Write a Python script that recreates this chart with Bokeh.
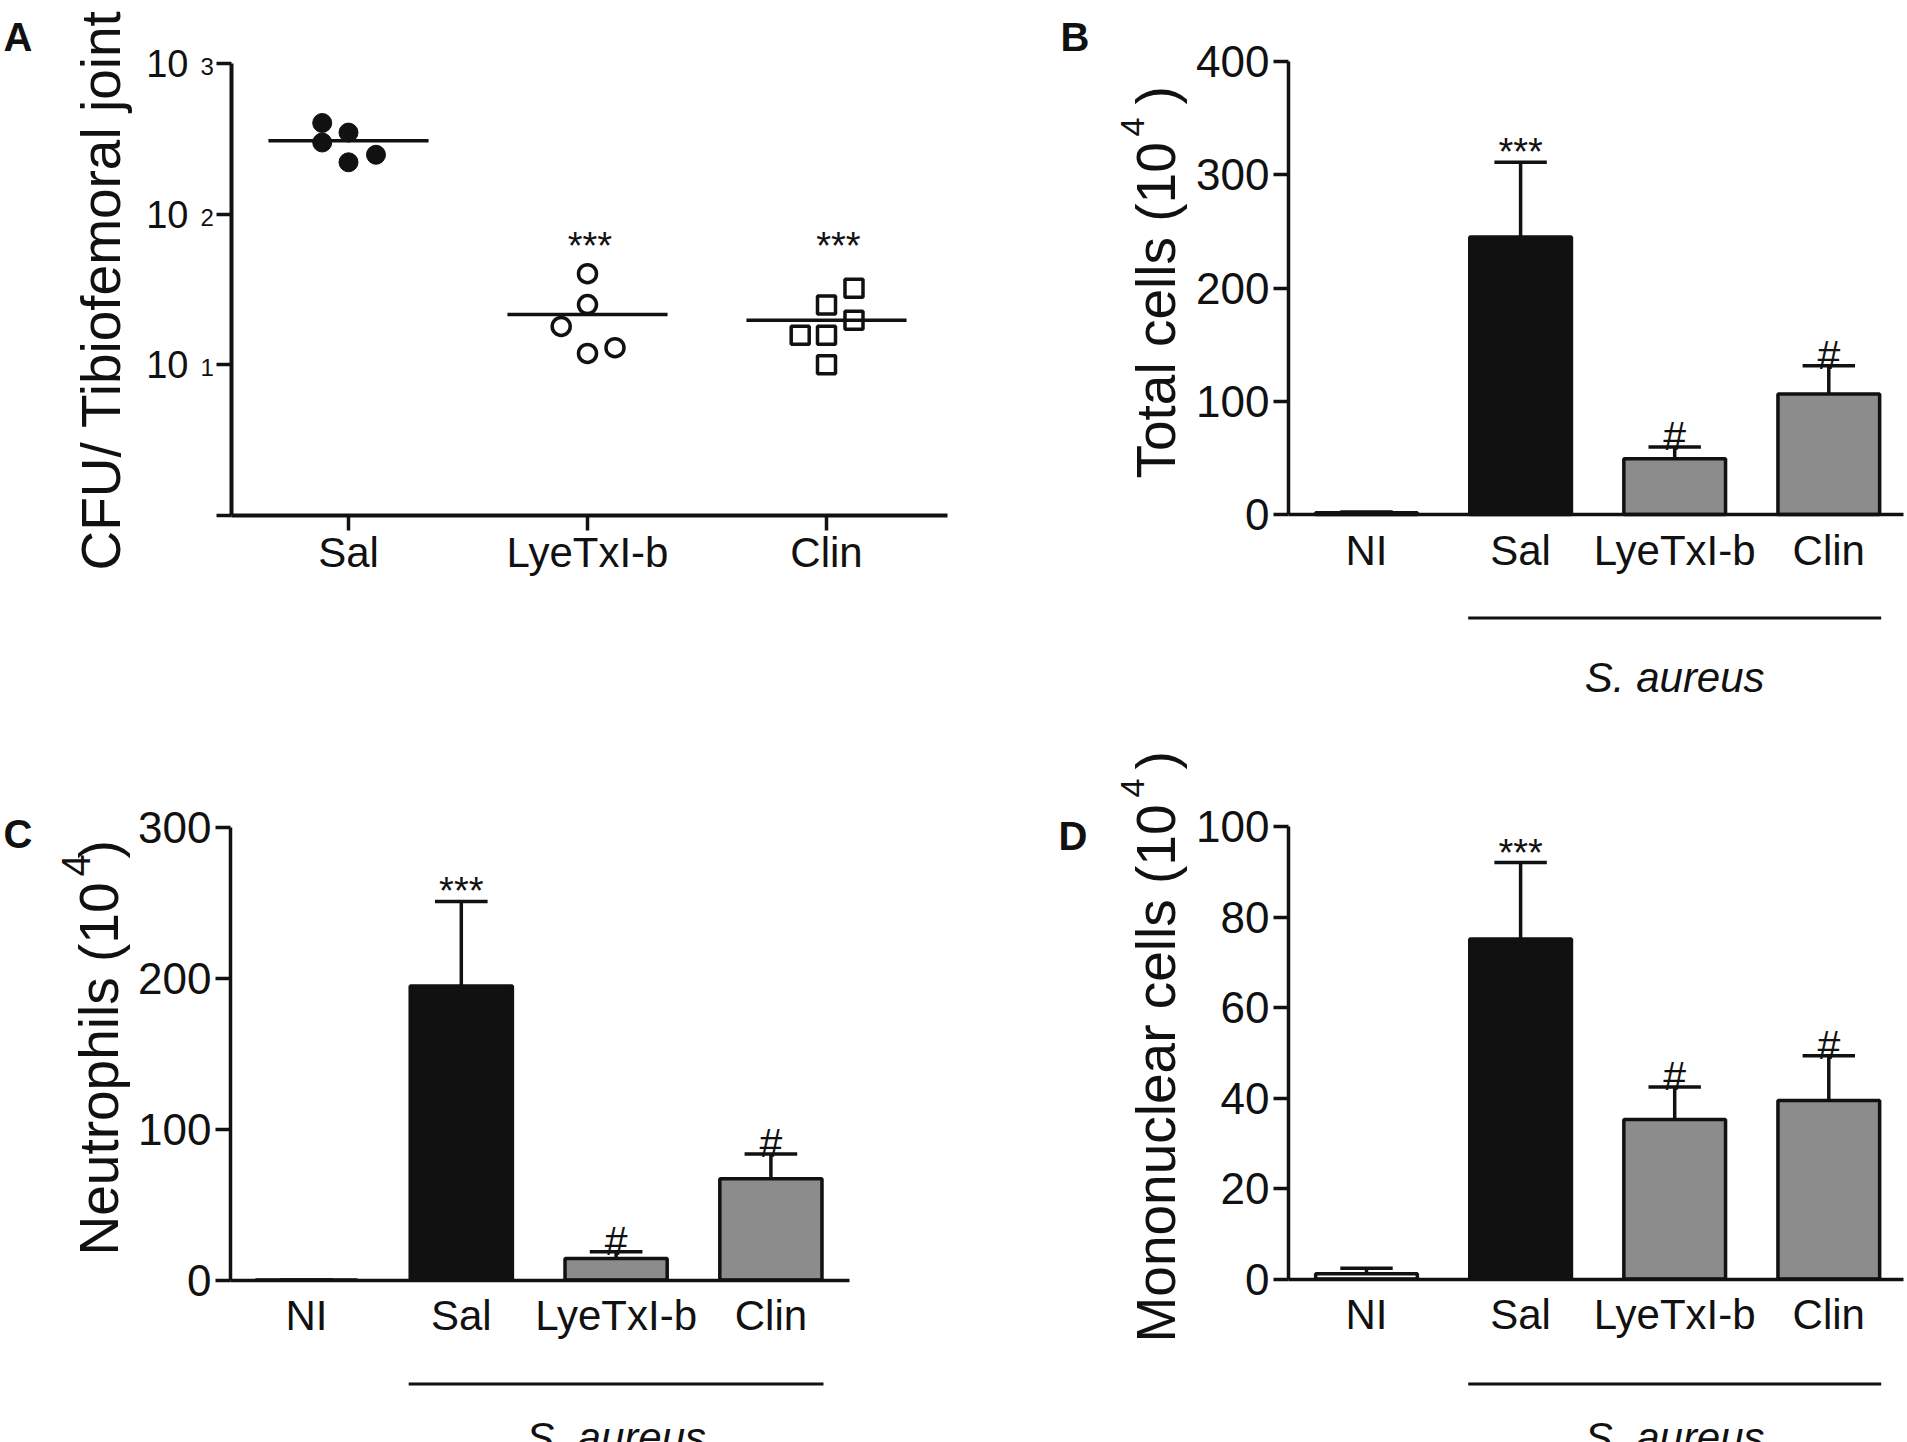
from bokeh.core.properties import value
from bokeh.embed import file_html
from bokeh.layouts import column, row
from bokeh.models import FixedTicker, Range1d
from bokeh.plotting import figure
from bokeh.resources import INLINE
import math

FONT = "Liberation Sans"
INK = "#111111"
GREY = "#8c8c8c"
UP = math.pi / 2

# panel A
cfu_ticks = [1, 10, 100, 1000]
cfu_tick_labels = ["", "10", "10", "10"]
cfu_exponents = ["1", "2", "3"]
cfu_groups = ["Sal", "LyeTxI-b", "Clin"]
sal_cfu = [403, 348, 299, 248, 221]
sal_jitter = [-0.11, 0.0, -0.11, 0.115, 0.0]
sal_mean = 307
lye_cfu = [40.3, 25.1, 18, 13, 11.9]
lye_jitter = [0.0, 0.0, -0.11, 0.115, 0.0]
lye_mean = 21.6
clin_cfu = [32.2, 25, 19.8, 15.7, 15.7, 10]
clin_jitter = [0.115, 0.0, 0.115, -0.11, 0.0, 0.0]
clin_mean = 19.8

# bar panels
groups = ["NI", "Sal", "LyeTxI-b", "Clin"]
total_cells = [1.5, 245, 49.3, 106.4]
total_upper = [2.2, 311, 59.5, 131.3]
neutrophils = [0, 195, 14.3, 67.2]
neutrophils_upper = [0, 251, 18.8, 83.5]
mononuclear = [1.2, 75.2, 35.3, 39.5]
mononuclear_upper = [2.4, 92.1, 42.5, 49.4]
bar_colors = ["white", INK, GREY, GREY]
total_ticks = [0, 100, 200, 300, 400]
neutrophil_ticks = [0, 100, 200, 300]
mononuclear_ticks = [0, 20, 40, 60, 80, 100]


def base_figure(box, x_range, y_range, **kw):
    # the frame fills the whole figure, the axes are pinned inside it, so that
    # the titles and the S. aureus line are ordinary glyphs
    left, right, top, bottom = box
    p = figure(width=right - left, height=bottom - top, output_backend="svg", toolbar_location=None,
               x_range=Range1d(*x_range), y_range=Range1d(*y_range),
               min_border_left=0, min_border_right=0, min_border_top=0, min_border_bottom=0, **kw)
    p.outline_line_color = None
    p.grid.visible = False
    for ax in (p.xaxis[0], p.yaxis[0]):
        ax.axis_line_color = INK
        ax.major_tick_line_color = INK
        ax.major_label_text_color = INK
        ax.major_label_text_font = FONT
        ax.minor_tick_line_color = None
        ax.major_tick_in = 0
        ax.major_tick_out = 15
        ax.axis_line_width = 3.5
        ax.major_tick_line_width = 3.5
    return p


def add_text(p, x, y, text, size, angle=0.0, style="normal", align="left", y_offset=0):
    p.text(x=[x], y=[y], text=[text], text_font=value(FONT), text_font_size=f"{size}px",
           text_font_style=style, text_color=INK, angle=angle, text_align=align,
           text_baseline="alphabetic", y_offset=y_offset)


def bar_panel(box, first_x, spacing, axis_x, axis_end, y0_px, ytop_px, y_max, ticks, values, upper,
              label, label_x, label_bottom, exp_x, exp_y, exp_size, paren_y, letter, letter_xy, under,
              standoff):
    def to_x(px):
        return 1 + (px - first_x) / spacing

    def to_y(py):
        return y_max * (y0_px - py) / (y0_px - ytop_px)

    left, right, top, bottom = box
    p = base_figure(box, (to_x(left), to_x(right)), (to_y(bottom), to_y(top)))
    p.xaxis.fixed_location = 0
    p.yaxis.fixed_location = to_x(axis_x)
    p.xaxis.bounds = (to_x(axis_x), to_x(axis_end))
    p.yaxis.bounds = (0, y_max)

    xs = list(range(1, len(groups) + 1))
    p.vbar(x=xs, top=values, bottom=0, width=0.66, fill_color=bar_colors, line_color=INK, line_width=3.5)
    p.segment(x0=xs, y0=values, x1=xs, y1=upper, line_color=INK, line_width=3.5)
    p.segment(x0=[x - 0.17 for x in xs], y0=upper, x1=[x + 0.17 for x in xs], y1=upper,
              line_color=INK, line_width=3.5)

    p.xaxis.ticker = FixedTicker(ticks=xs)
    p.xaxis.major_label_overrides = {x: g for x, g in zip(xs, groups)}
    p.xaxis.major_tick_out = 0
    p.xaxis.major_tick_line_color = None
    p.xaxis.major_label_text_font_size = "42px"
    p.xaxis.major_label_standoff = standoff
    p.yaxis.ticker = FixedTicker(ticks=ticks)
    p.yaxis.major_label_text_font_size = "44px"
    p.yaxis.major_label_standoff = 4

    add_text(p, 2, upper[1], "***", 38, align="center", y_offset=-10)
    for i in (2, 3):
        add_text(p, xs[i], upper[i], "#", 41, align="center", y_offset=-11)

    # title in pieces, the exponent sits well off the line
    add_text(p, to_x(label_x), to_y(label_bottom), label, 55, angle=UP)
    add_text(p, to_x(exp_x), to_y(exp_y), "4", exp_size, angle=UP)
    add_text(p, to_x(label_x), to_y(paren_y), ")", 55, angle=UP)

    add_text(p, to_x(letter_xy[0]), to_y(letter_xy[1]), letter, 40, style="bold")

    line_y = to_y(under[0])
    p.segment(x0=[1.66], y0=[line_y], x1=[4.34], y1=[line_y], line_color=INK, line_width=3)
    add_text(p, 3.0, to_y(under[1]), "S. aureus", 42, style="italic", align="center")
    return p


# panel A
def a_x(px):
    return 1 + (px - 348) / 239


def a_y(py):
    return 10 ** (3 - (py - 63) / 150.67)


a = base_figure((0, 1050, 0, 700), (a_x(0), a_x(1050)), (a_y(700), a_y(0)), y_axis_type="log")
a.xaxis.fixed_location = 1
a.yaxis.fixed_location = a_x(231)
a.xaxis.bounds = (a_x(231), a_x(947))
a.yaxis.bounds = (1, 1000)
a.yaxis.ticker = FixedTicker(ticks=cfu_ticks)
a.yaxis.major_label_overrides = {t: l for t, l in zip(cfu_ticks, cfu_tick_labels)}
a.yaxis.major_label_text_font_size = "38px"
a.yaxis.major_label_standoff = 28
a.yaxis.axis_line_width = 4
a.xaxis.axis_line_width = 4
a.xaxis.ticker = FixedTicker(ticks=[1, 2, 3])
a.xaxis.major_label_overrides = {i + 1: g for i, g in enumerate(cfu_groups)}
a.xaxis.major_label_text_font_size = "42px"
a.xaxis.major_label_standoff = -2

a.scatter([1 + j for j in sal_jitter], sal_cfu, marker="circle", size=19,
          fill_color=INK, line_color=INK)
a.scatter([2 + j for j in lye_jitter], lye_cfu, marker="circle", size=18,
          fill_color="white", line_color=INK, line_width=3.5)
a.scatter([3 + j for j in clin_jitter], clin_cfu, marker="square", size=18,
          fill_color="white", line_color=INK, line_width=3.5)
for i, m in enumerate([sal_mean, lye_mean, clin_mean]):
    a.segment(x0=[i + 1 - 0.335], y0=[m], x1=[i + 1 + 0.335], y1=[m], line_color=INK, line_width=3.5)

for t, e in zip(cfu_ticks[1:], cfu_exponents):
    add_text(a, a_x(200), t, e, 24, y_offset=3)
add_text(a, 2.01, 86, "***", 38, align="center", y_offset=22)
add_text(a, 3.05, 86, "***", 38, align="center", y_offset=22)
add_text(a, a_x(100), a_y(570), "CFU/ Tibiofemoral joint", 55, angle=UP)
add_text(a, a_x(3), a_y(36), "A", 40, style="bold")

b = bar_panel((1050, 1907, 0, 700), 1366, 154.1, 1288, 1903, 514, 61, 400, total_ticks,
              total_cells, total_upper,
              "Total cells (10", 1155, 478, 1132, 136, 34, 104, "B", (1060, 36), (617.5, 677), 12)
c = bar_panel((0, 1050, 700, 1442), 306, 154.8, 230, 849, 1279.5, 827, 300, neutrophil_ticks,
              neutrophils, neutrophils_upper,
              "Neutrophils (10", 98, 1255, 75, 876, 40, 858, "C", (3, 833), (1383.5, 1437), 12)
d = bar_panel((1050, 1907, 700, 1442), 1366, 154.1, 1288, 1903, 1278.6, 826.4, 100, mononuclear_ticks,
              mononuclear, mononuclear_upper,
              "Mononuclear cells (10", 1155, 1342, 1132, 797, 34, 769, "D", (1058, 835), (1383.5, 1437), 12)

layout = column(row(a, b, spacing=0), row(c, d, spacing=0), spacing=0)
open("out.html", "w").write(file_html(layout, INLINE))
